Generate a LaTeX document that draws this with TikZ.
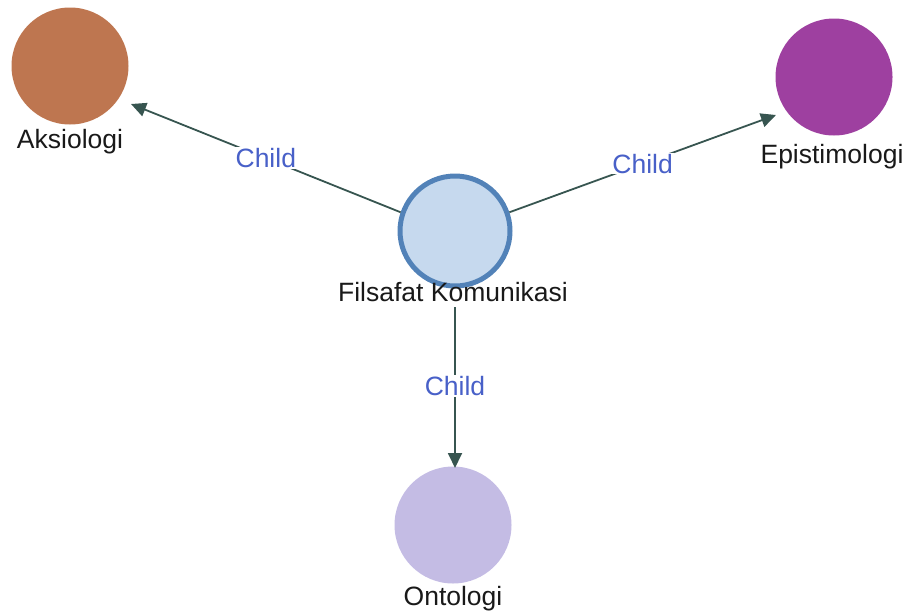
\documentclass[tikz,border=0pt]{standalone}
\usepackage{fontspec}
\setmainfont{Liberation Sans}
\usetikzlibrary{arrows.meta}
\definecolor{aks}{RGB}{190,118,80}
\definecolor{epi}{RGB}{158,64,160}
\definecolor{ont}{RGB}{196,188,228}
\definecolor{cfill}{RGB}{198,217,238}
\definecolor{cline}{RGB}{82,130,184}
\definecolor{edge}{RGB}{55,85,80}
\definecolor{lbl}{RGB}{72,96,200}
\tikzset{
  ball/.style={circle, minimum size=117pt, inner sep=0pt},
  nodetext/.style={font=\fontsize{26.5}{29}\selectfont, text=black!90, inner sep=1pt},
  rel/.style={draw=edge, line width=1.8pt, -{Triangle[length=15pt,width=14pt]}},
  rellbl/.style={font=\fontsize{26.5}{29}\selectfont, text=lbl, fill=white, inner sep=1pt}
}
\begin{document}
\begin{tikzpicture}[x=1pt,y=-1pt]
\useasboundingbox (0,0) rectangle (907,611);
\node[ball, fill=aks] (aks) at (70,66) {};
\node[nodetext] (aksl) at (70,142) {Aksiologi};
\node[ball, fill=epi] (epi) at (834,77) {};
\node[nodetext] (epil) at (832,157) {Epistimologi};
\node[ball, fill=ont] (ont) at (453,525) {};
\node[nodetext] (ontl) at (453,599) {Ontologi};
\node[circle, minimum size=110pt, inner sep=0pt, fill=cfill, draw=cline, line width=5pt] (ctr) at (455,231) {};
\node[nodetext] (ctrl) at (453,292) {Filsafat Komunikasi};
\coordinate (aksin) at (131,104);
\coordinate (epiin) at (776,115);
\coordinate (vs) at (455,307);
\coordinate (ontin) at (455,468);
\draw[rel] (ctr.161) -- node[rellbl, pos=0.5] {Child} (aksin);
\draw[rel] (ctr.19) -- node[rellbl, pos=0.5] {Child} (epiin);
\draw[rel] (vs) -- node[rellbl, pos=0.49] {Child} (ontin);
\end{tikzpicture}
\end{document}
